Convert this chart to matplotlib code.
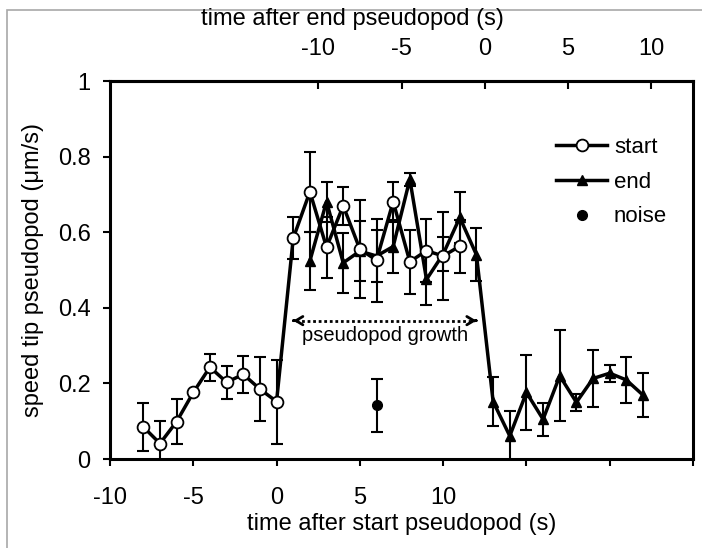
import matplotlib
matplotlib.use('Agg')
import matplotlib.pyplot as plt
from matplotlib.patches import Rectangle
import numpy as np

plt.rcParams['font.family'] = ['Liberation Sans', 'DejaVu Sans']

# time after start pseudopod (s) -- "start" series
start_t = [-8, -7, -6, -5, -4, -3, -2, -1, 0, 1, 2, 3, 4, 5, 6, 7, 8, 9, 10, 11]
start_v = [0.085, 0.041, 0.099, 0.176, 0.243, 0.203, 0.224, 0.185, 0.152, 0.584,
           0.707, 0.560, 0.670, 0.555, 0.526, 0.681, 0.522, 0.551, 0.537, 0.563]
start_err = [0.063, 0.059, 0.060, 0.0, 0.036, 0.044, 0.049, 0.084, 0.111, 0.055,
             0.106, 0.080, 0.050, 0.130, 0.110, 0.053, 0.085, 0.083, 0.117, 0.070]

# "end" series, placed on the bottom (start) time axis
end_t = [2, 3, 4, 5, 6, 7, 8, 9, 10, 11, 12, 13, 14, 15, 16, 17, 18, 19, 20, 21, 22]
end_v = [0.524, 0.681, 0.519, 0.550, 0.537, 0.562, 0.740, 0.475, 0.542, 0.639, 0.540,
         0.152, 0.061, 0.176, 0.105, 0.220, 0.150, 0.213, 0.227, 0.209, 0.169]
end_err = [0.077, 0.053, 0.080, 0.080, 0.070, 0.070, 0.017, 0.068, 0.045, 0.068, 0.070,
           0.065, 0.065, 0.100, 0.044, 0.120, 0.022, 0.075, 0.022, 0.060, 0.058]

noise_t = [6]
noise_v = [0.142]
noise_err = [0.070]

end_offset = 12.5  # time after end = time after start - offset

bottom_ticks = [-10, -5, 0, 5, 10, 15, 20, 25]
bottom_labels = ['-10', '-5', '0', '5', '10', '', '', '']
top_ticks = [-10, -5, 0, 5, 10]
top_labels = ['-10', '-5', '0', '5', '10']
y_ticks = [0, 0.2, 0.4, 0.6, 0.8, 1]
y_labels = ['0', '0.2', '0.4', '0.6', '0.8', '1']

fig = plt.figure(figsize=(7.02, 5.48), dpi=100)
ax = fig.add_axes([110 / 702, 89 / 548, 583 / 702, 378 / 548])

err_kw = dict(fmt='none', ecolor='black', elinewidth=1.5, capsize=4, capthick=1.5)
ax.errorbar(end_t, end_v, yerr=end_err, zorder=2, **err_kw)
ax.errorbar(start_t, start_v, yerr=start_err, zorder=2, **err_kw)
ax.errorbar(noise_t, noise_v, yerr=noise_err, zorder=2, **err_kw)

ax.plot(start_t, start_v, color='black', lw=2.5, marker='o', ms=8.5, mfc='white',
        mec='black', mew=1.3, zorder=4, label='start')
ax.plot(end_t, end_v, color='black', lw=2.5, marker='^', ms=7, mfc='black',
        mec='black', zorder=3, label='end')
ax.plot(noise_t, noise_v, ls='none', marker='o', ms=7, color='black', zorder=3, label='noise')

# pseudopod growth arrow
ax.plot([1.15, 11.85], [0.366, 0.366], color='black', lw=2, ls=(0, (1, 1)))
for x0, x1 in [(1.2, 1.0), (11.8, 12.0)]:
    ax.annotate('', xy=(x1, 0.366), xytext=(x0, 0.366),
                arrowprops=dict(arrowstyle='->,head_length=0.5,head_width=0.3', lw=2, color='black'))
ax.text(6.5, 0.328, 'pseudopod growth', ha='center', va='center', fontsize=14.5)

ax.set_xlim(-10, 25)
ax.set_ylim(0, 1)
ax.set_xticks(bottom_ticks)
ax.set_xticklabels(bottom_labels)
ax.set_yticks(y_ticks)
ax.set_yticklabels(y_labels)
ax.tick_params(axis='both', direction='out', length=5, width=1.5, labelsize=17, pad=9)
ax.tick_params(axis='x', pad=15)
for s in ax.spines.values():
    s.set_linewidth(2.2)

ax.set_xlabel('time after start pseudopod (s)', fontsize=17, labelpad=3)
ax.set_ylabel('speed tip pseudopod (\u03bcm/s)', fontsize=17, labelpad=10)

top = ax.secondary_xaxis('top', functions=(lambda x: x - end_offset, lambda x: x + end_offset))
top.set_xticks(top_ticks)
top.set_xticklabels(top_labels)
top.tick_params(direction='in', length=6, width=1.5, labelsize=17, pad=15)
top.spines['top'].set_linewidth(2.2)
fig.text(352 / 702, 1 - 19 / 548, 'time after end pseudopod (s)', ha='center', va='center', fontsize=17)

ax.legend(loc='upper left', bbox_to_anchor=(0.731, 0.905), frameon=False, fontsize=16,
          handlelength=2.3, handletextpad=0.3, labelspacing=0.62)

# thin grey frame of the original picture
fig.patches.append(Rectangle((7 / 702, -0.1), 2, 1.1 - 10 / 548, transform=fig.transFigure,
                             fill=False, ec='#a8a8a8', lw=1.2))

fig.savefig('out.png', dpi=100)
